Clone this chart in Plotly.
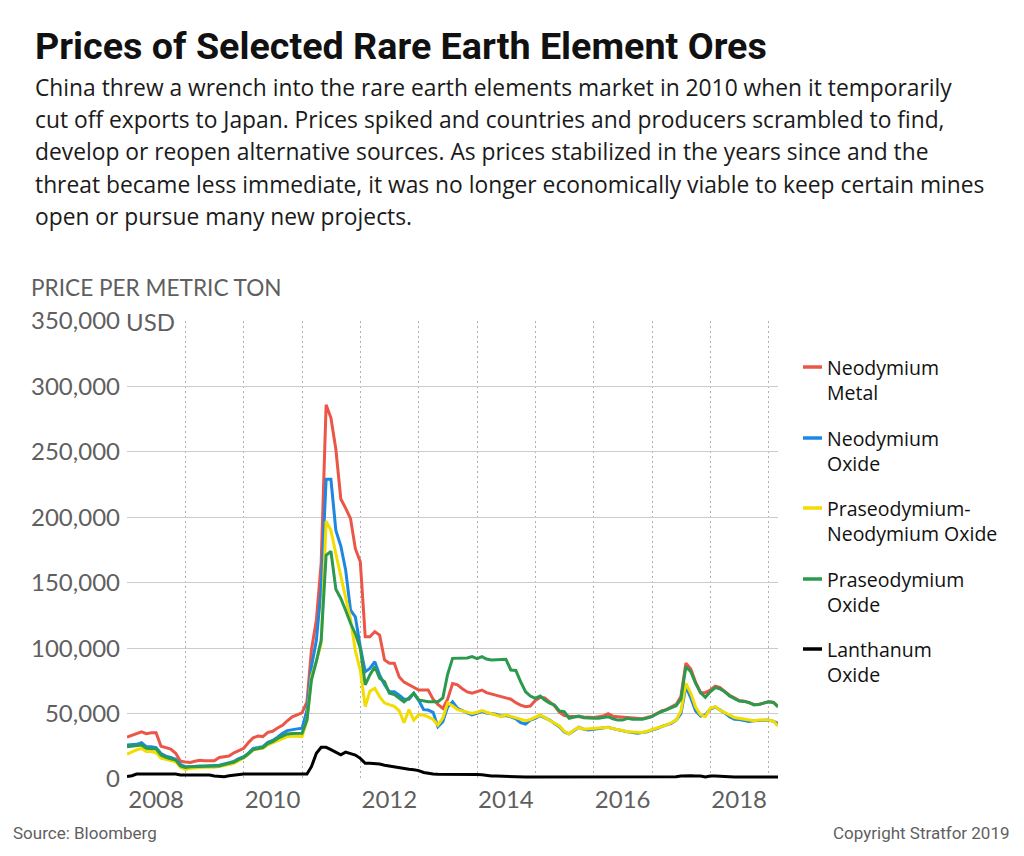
import pandas as pd
import plotly.graph_objects as go

# ---------------- data (monthly, Jan 2008 - Mar 2019), USD per metric ton ----------------
months = pd.date_range("2008-01-01", periods=135, freq="MS")

neodymium_metal = [
    32000, 33500, 35000, 36000, 34600, 35300, 35300, 25000, 24000, 22800, 19600, 13500,
    13000, 12600, 13500, 14300, 14000, 13800, 14000, 16500, 16800, 17500, 20000, 21500,
    23500, 28000, 31500, 32800, 32400, 35600, 36500, 39000, 41000, 44500, 47500, 49000,
    50500, 59000, 98600, 121500, 165000, 286000, 276000, 252000, 214000, 207000, 199000, 176000,
    166000, 108700, 108700, 112500, 110000, 91000, 88400, 88400, 78000, 74000, 72000, 70000,
    68000, 68000, 68000, 61000, 57000, 54000, 61000, 73000, 72000, 69000, 66500, 65500,
    67000, 68000, 66000, 65000, 64000, 62500, 62000, 61000, 58300, 56500, 55300, 55800,
    60000, 62500, 62000, 59000, 56000, 51000, 48500, 48000, 48000, 47600, 47300, 47000,
    47000, 47500, 48100, 50000, 48000, 47600, 47300, 47000, 46500, 46000, 46000, 47000,
    48000, 50000, 52000, 53000, 54800, 57000, 63000, 88400, 84000, 74000, 66000, 66000,
    68000, 71000, 70000, 67000, 64000, 62000, 60000, 59500, 58500, 57000, 57000, 58000,
    59000, 58500, 55500,
]

neodymium_oxide = [
    26000, 26000, 26500, 27700, 24700, 24700, 24000, 19500, 17500, 16500, 15000, 11000,
    9400, 9400, 9800, 10000, 10000, 10000, 10000, 10500, 11500, 12500, 13500, 15500,
    17000, 20000, 23400, 24000, 24700, 28000, 29500, 32000, 35000, 37000, 37900, 38300,
    38700, 52700, 85800, 106000, 145000, 229000, 229000, 190000, 178000, 160000, 129000, 124000,
    101000, 82000, 84500, 89600, 79500, 72000, 66700, 66700, 64000, 61000, 61000, 65500,
    60000, 53000, 52700, 51000, 40000, 43800, 55000, 59000, 54000, 52000, 50500, 49000,
    50500, 51500, 50500, 50000, 49500, 48000, 48500, 47500, 46000, 43000, 42000, 45000,
    46300, 48500, 47000, 45000, 42500, 40000, 36000, 34500, 37000, 39500, 38000, 37500,
    38000, 38500, 39000, 39500, 38500, 37500, 37000, 36000, 35500, 35000, 35500, 36000,
    37500, 38500, 40000, 41000, 42500, 45000, 50000, 70600, 62000, 52000, 48000, 49000,
    53500, 55000, 53000, 50500, 47500, 45700, 45500, 45000, 44000, 44500, 44500, 45000,
    45000, 44000, 42500,
]

pr_nd_oxide = [
    19100, 21000, 22200, 23400, 21000, 21000, 20000, 16000, 15000, 14500, 13200, 9000,
    7400, 8200, 8500, 8900, 8900, 8900, 8900, 9500, 10000, 11000, 12000, 14000,
    16000, 19000, 22200, 23000, 23400, 26000, 27500, 29300, 31000, 32300, 32900, 32500,
    32300, 45000, 78200, 90000, 103700, 197000, 190000, 172000, 155000, 137000, 122000, 98000,
    83000, 55300, 67000, 69300, 63000, 58000, 56600, 55500, 52000, 43000, 53000, 45000,
    49000, 48900, 47500, 45500, 41200, 46500, 58000, 56000, 53000, 52000, 50500, 50000,
    51000, 52200, 51000, 50000, 49000, 47600, 49000, 48000, 47000, 45500, 44600, 45500,
    47000, 48900, 47000, 45000, 42500, 40500, 36500, 34400, 37500, 39500, 38000, 38500,
    38800, 39000, 39200, 39500, 38500, 38000, 37000, 36100, 35800, 35400, 35500, 36500,
    37500, 39000, 40000, 41200, 43000, 45000, 52000, 73100, 65500, 55000, 49000, 47600,
    54000, 55300, 52700, 51000, 49000, 47000, 46400, 45500, 45000, 44600, 45000, 45000,
    45000, 44000, 40500,
]

praseodymium_oxide = [
    24700, 25000, 25500, 26000, 23400, 23400, 23000, 18300, 16500, 15500, 14500, 10000,
    8900, 9400, 9500, 9500, 9500, 9500, 9500, 10000, 11000, 12000, 13000, 15000,
    16500, 19500, 22500, 23200, 24000, 27000, 28500, 31000, 33000, 34400, 34800, 35000,
    35000, 45000, 75600, 90000, 106000, 171000, 174000, 145000, 138000, 129000, 119000, 111000,
    100000, 72000, 79500, 85800, 77000, 74400, 65500, 64500, 62000, 59000, 62000, 65500,
    60400, 59500, 59000, 59000, 59000, 62000, 80000, 92200, 92200, 92200, 92500, 93500,
    92000, 93500, 91700, 91000, 91000, 91500, 91500, 83300, 83000, 74400, 66700, 63400,
    61700, 63400, 60400, 58000, 56600, 52000, 51400, 46400, 47500, 48100, 46800, 46500,
    46400, 46500, 46800, 47600, 46000, 45000, 45000, 46400, 45700, 45700, 45700, 46500,
    47600, 50000, 51500, 52700, 54800, 56000, 61000, 85800, 82000, 73000, 66000, 62400,
    66700, 69800, 69000, 66700, 63500, 61500, 59600, 59300, 58500, 56600, 57000, 58000,
    59000, 58500, 55000,
]

lanthanum_oxide = [
    1800, 2500, 3800, 3800, 3800, 3800, 3800, 3800, 3800, 3800, 3800, 3000,
    3000, 3000, 3000, 3000, 3000, 3000, 2300, 1800, 1800, 2500, 3000, 3500,
    3800, 3800, 3800, 3800, 3800, 3800, 3800, 3800, 3800, 3800, 3800, 3800,
    3800, 3800, 9400, 19600, 24200, 24200, 22500, 20500, 18500, 20500, 19500, 18300,
    15800, 12000, 12000, 12000, 11500, 10500, 9900, 9000, 8200, 7800, 7400, 7000,
    6400, 5000, 4300, 3800, 3600, 3600, 3600, 3600, 3600, 3600, 3700, 3800,
    3500, 3200, 2600, 2300, 2200, 2000, 1800, 1700, 1500, 1500, 1500, 1500,
    1500, 1500, 1500, 1500, 1500, 1500, 1500, 1500, 1500, 1500, 1500, 1500,
    1500, 1500, 1500, 1500, 1500, 1500, 1500, 1500, 1500, 1500, 1500, 1500,
    1500, 1500, 1500, 1500, 1500, 1800, 2300, 2500, 2500, 2300, 2300, 1500,
    2300, 2300, 2300, 2000, 1800, 1500, 1500, 1500, 1500, 1500, 1500, 1500,
    1500, 1500, 1500,
]

series_names = [
    "Neodymium Metal",
    "Neodymium Oxide",
    "Praseodymium-Neodymium Oxide",
    "Praseodymium Oxide",
    "Lanthanum Oxide",
]
legend_labels = [
    "Neodymium<br>Metal",
    "Neodymium<br>Oxide",
    "Praseodymium-<br>Neodymium Oxide",
    "Praseodymium<br>Oxide",
    "Lanthanum<br>Oxide",
]
series_values = [neodymium_metal, neodymium_oxide, pr_nd_oxide, praseodymium_oxide, lanthanum_oxide]
series_colors = ["#eb5648", "#1c88e3", "#f3dc00", "#2c9a4e", "#000000"]

y_tick_vals = [0, 50000, 100000, 150000, 200000, 250000, 300000, 350000]
y_tick_text = ["0", "50,000", "100,000", "150,000", "200,000", "250,000", "300,000", "350,000"]
x_tick_vals = ["2008-07-01", "2010-07-01", "2012-07-01", "2014-07-01", "2016-07-01", "2018-07-01"]
x_tick_text = ["2008", "2010", "2012", "2014", "2016", "2018"]

title = "Prices of Selected Rare Earth Element Ores"
subtitle_lines = [
    "China threw a wrench into the rare earth elements market in 2010 when it temporarily",
    "cut off exports to Japan. Prices spiked and countries and producers scrambled to find,",
    "develop or reopen alternative sources. As prices stabilized in the years since and the",
    "threat became less immediate, it was no longer economically viable to keep certain mines",
    "open or pursue many new projects.",
]

# ---------------- layout geometry ----------------
# The page body adds an 8px offset, so the figure is drawn 8px smaller and all
# screen positions (as measured on the reference) are shifted by OFF.
OFF = 8
W, H = 1024 - OFF, 856 - OFF
SL, SR, ST, SB = 127, 778, 321, 779          # plot area in screen pixels
L, R, T, B = SL - OFF, SR - OFF, ST - OFF, SB - OFF


def px_x(x):
    return (x - OFF - L) / (R - L)


def px_y(y):
    return (B - (y - OFF)) / (B - T)


BODY = "'Open Sans', Lato, sans-serif"
TICK = "Lato, 'Open Sans', sans-serif"
HEAD = "Roboto, Lato, sans-serif"
GREY = "#5f5f5f"

fig = go.Figure()
for name, vals, color in zip(series_names, series_values, series_colors):
    fig.add_trace(go.Scatter(
        x=months, y=vals, mode="lines", name=name,
        line=dict(color=color, width=3), showlegend=False,
        hovertemplate="%{x|%b %Y}: %{y:,.0f} USD<extra></extra>",
    ))

annotations = []
shapes = []

annotations.append(dict(
    text="<b>" + title + "</b>", x=px_x(33), y=px_y(46), xref="paper", yref="paper",
    xanchor="left", yanchor="middle", showarrow=False,
    font=dict(family=HEAD, size=37.7, color="#111111"),
))
for i, line in enumerate(subtitle_lines):
    annotations.append(dict(
        text=line, x=px_x(33), y=px_y(87 + i * 32.4), xref="paper", yref="paper",
        xanchor="left", yanchor="middle", showarrow=False,
        font=dict(family=BODY, size=22.8, color="#1a1a1a"),
    ))
annotations.append(dict(
    text="PRICE PER METRIC TON", x=px_x(29), y=px_y(287), xref="paper", yref="paper",
    xanchor="left", yanchor="middle", showarrow=False,
    font=dict(family=TICK, size=22.6, color=GREY),
))
annotations.append(dict(
    text="USD", x=0, y=350000, xref="paper", yref="y", xanchor="left", yanchor="middle",
    showarrow=False, bgcolor="white", borderpad=2, xshift=-4,
    font=dict(family=TICK, size=24, color=GREY),
))

LEG_SIZE = 19.5
legend_y = [367, 438, 508, 579, 649]
for label, color, yc in zip(legend_labels, series_colors, legend_y):
    annotations.append(dict(
        text=label, x=px_x(825), y=px_y(yc + 0.65 * LEG_SIZE), xref="paper", yref="paper",
        xanchor="left", yanchor="middle", align="left", showarrow=False,
        font=dict(family=BODY, size=LEG_SIZE, color="#111111"),
    ))
    shapes.append(dict(
        type="line", xref="paper", yref="paper",
        x0=px_x(803), x1=px_x(822), y0=px_y(yc), y1=px_y(yc),
        line=dict(color=color, width=3.5),
    ))

annotations.append(dict(
    text="Source: Bloomberg", x=px_x(11), y=px_y(833), xref="paper", yref="paper",
    xanchor="left", yanchor="middle", showarrow=False,
    font=dict(family=HEAD, size=17, color=GREY),
))
annotations.append(dict(
    text="Copyright Stratfor 2019", x=px_x(1012), y=px_y(833), xref="paper", yref="paper",
    xanchor="right", yanchor="middle", showarrow=False,
    font=dict(family=HEAD, size=17, color=GREY),
))

fig.update_layout(
    width=W, height=H,
    margin=dict(l=L, r=W - R, t=T, b=H - B, pad=0),
    paper_bgcolor="white", plot_bgcolor="white",
    font=dict(family=TICK),
    annotations=annotations, shapes=shapes,
    showlegend=False,
    xaxis=dict(
        type="date", range=["2008-01-01", "2019-03-01"],
        tickvals=x_tick_vals, ticktext=x_tick_text,
        showgrid=False, zeroline=False, showline=False, ticks="",
        tickfont=dict(family=TICK, size=24, color=GREY),
        ticklabelstandoff=4,
        minor=dict(dtick="M12", tick0="2008-01-01", showgrid=True,
                   gridcolor="#b0b0b0", gridwidth=1, griddash="2px,3px", ticks=""),
    ),
    yaxis=dict(
        range=[0, 350000], tickvals=y_tick_vals, ticktext=y_tick_text,
        showgrid=True, gridcolor="#cccccc", gridwidth=1.2,
        zeroline=False, showline=False, ticks="",
        tickfont=dict(family=TICK, size=24, color=GREY),
        ticklabelstandoff=6,
    ),
)

fig.write_html("out.html")
